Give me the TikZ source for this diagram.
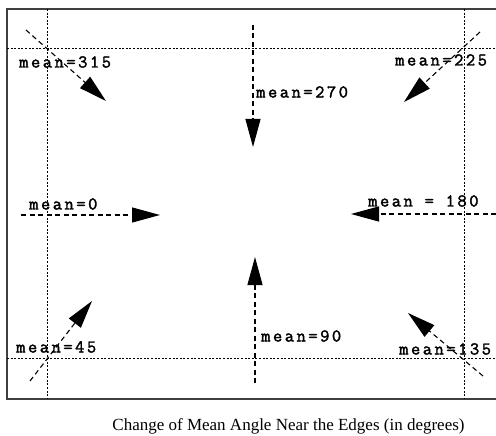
\documentclass[tikz,border=0pt]{standalone}
\usepackage{fontspec}
\setmainfont{Liberation Serif}
\newfontfamily\lblfont{Latin Modern Mono}[LetterSpace=14,FakeBold=2]
\usetikzlibrary{arrows.meta}
\begin{document}
\begin{tikzpicture}[x=1pt,y=-1pt,
  frame/.style={line width=1.4pt, draw=black!75},
  gridline/.style={line width=0.9pt, dash pattern=on 2pt off 1.6pt},
  flow/.style={line width=1.1pt, dash pattern=on 5pt off 3.5pt, -{Triangle[length=28pt,width=15pt]}},
  lbl/.style={font=\lblfont\fontsize{18}{18}\selectfont, inner sep=0pt, anchor=west},
  ]
\useasboundingbox (0,0) rectangle (496,436);
% frame
\draw[frame] (497,9) -- (7,9) -- (7,399) -- (497,399);
% grid lines
\draw[gridline] (7,48) -- (496,48);
\draw[gridline] (7,358) -- (496,358);
\draw[gridline] (47,9) -- (47,399);
\draw[gridline] (464,9) -- (464,399);
% arrow end points
\coordinate (s315) at (26,30);   \coordinate (t315) at (106,101);
\coordinate (s270) at (253,25);  \coordinate (t270) at (253,147);
\coordinate (s225) at (480,32);  \coordinate (t225) at (404,102);
\coordinate (s0)   at (21,215);  \coordinate (t0)   at (160,215);
\coordinate (s180) at (496,214); \coordinate (t180) at (351,214);
\coordinate (s90)  at (255,383); \coordinate (t90)  at (255,257);
\coordinate (s45)  at (30,381);  \coordinate (t45)  at (92,301);
\coordinate (s135) at (483,376); \coordinate (t135) at (408,313);
\foreach \a in {315,270,225,0,180,90,45,135}
  \draw[flow] (s\a) -- (t\a);
% labels
\node[lbl] (l315) at (19,62)  {mean=315};
\node[lbl] (l270) at (256,92) {mean=270};
\node[lbl] (l225) at (395,60) {mean=225};
\node[lbl] (l0)   at (29,204) {mean=0};
\node[lbl] (l180) at (368,201) {mean = 180};
\node[lbl] (l90)  at (261,336) {mean=90};
\node[lbl] (l45)  at (16,347) {mean=45};
\node[lbl] (l135) at (399,349) {mean=135};
% caption
\node[font=\fontsize{17}{17}\selectfont, inner sep=0pt] (cap) at (288.5,426) {Change of Mean Angle Near the Edges (in degrees)};
\end{tikzpicture}
\end{document}
